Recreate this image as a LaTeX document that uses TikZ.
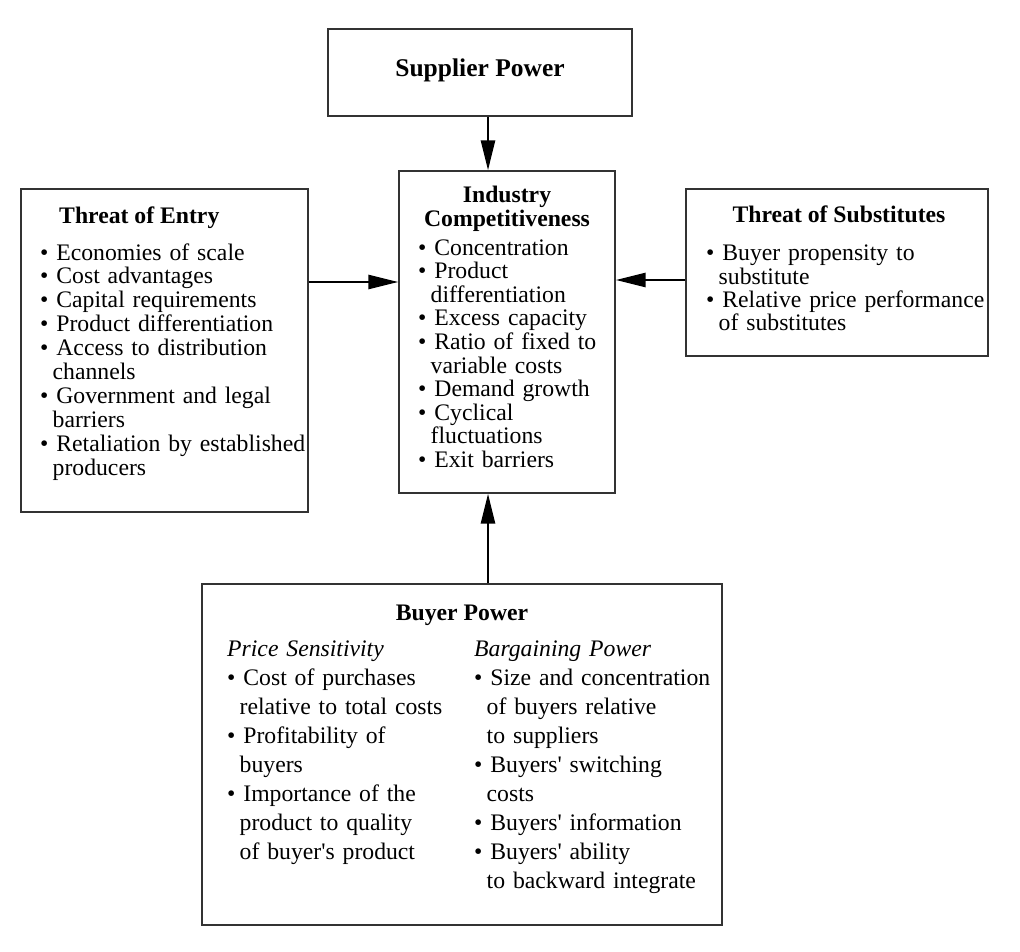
\documentclass[tikz,border=0pt]{standalone}
\usepackage{fontspec}
\setmainfont{Liberation Serif}
\usetikzlibrary{arrows.meta}

\newcommand\bitem[1]{\hangindent=12.5pt\hangafter=1\noindent\textbullet\ #1\par}
\newcommand\nl{\hfil\break}

\tikzset{
  box/.style={draw=black!80, line width=1.3pt, inner sep=0pt},
  txt/.style={anchor=base west, inner sep=0pt, align=left, text width=290pt,
    font=\fontsize{23.7}{#1}\selectfont},
  head/.style={anchor=base, inner sep=0pt, font=\fontsize{23.7}{24}\selectfont\bfseries},
  arr/.style={line width=2.6pt, -{Triangle[length=30pt,width=14pt]}}
}

\begin{document}
\begin{tikzpicture}[x=1pt, y=-1pt]
  \useasboundingbox (0,0) rectangle (1020,952);

  % boxes
  \node[box, minimum width=304pt, minimum height=87pt]  (supplier) at (480, 72.5) {};
  \node[box, minimum width=216pt, minimum height=322pt] (industry) at (507, 332) {};
  \node[box, minimum width=287pt, minimum height=323pt] (entry)    at (164.5, 350.5) {};
  \node[box, minimum width=302pt, minimum height=167pt] (subst)    at (837, 272.5) {};
  \node[box, minimum width=520pt, minimum height=341pt] (buyer)    at (462, 754.5) {};

  % headings
  \node[head, font=\fontsize{25.5}{26}\selectfont\bfseries] (supplierhead) at (480, 77) {Supplier Power};
  \node[head, align=center, text width=210pt] (industryhead) at (507, 203) {Industry\\Competitiveness};
  \node[head, anchor=base west] (entryhead) at (59, 224) {Threat of Entry};
  \node[head] (substhead) at (839, 223) {Threat of Substitutes};
  \node[head] (buyerhead) at (462, 620) {Buyer Power};

  % lists
  \node[txt=23.9] (entrytxt) at (40, 260) {%
    \bitem{Economies of scale}
    \bitem{Cost advantages}
    \bitem{Capital requirements}
    \bitem{Product differentiation}
    \bitem{Access to distribution\nl channels}
    \bitem{Government and legal\nl barriers}
    \bitem{Retaliation by established\nl producers}};
  \node[txt=23.6] (industrytxt) at (418, 255) {%
    \bitem{Concentration}
    \bitem{Product\nl differentiation}
    \bitem{Excess capacity}
    \bitem{Ratio of fixed to\nl variable costs}
    \bitem{Demand growth}
    \bitem{Cyclical\nl fluctuations}
    \bitem{Exit barriers}};
  \node[txt=23.3] (substtxt) at (706, 261) {%
    \bitem{Buyer propensity to\nl substitute}
    \bitem{Relative price performance\nl of substitutes}};
  \node[txt=29] (pricetxt) at (227, 656) {%
    {\itshape Price Sensitivity}\par
    \bitem{Cost of purchases\nl relative to total costs}
    \bitem{Profitability of\nl buyers}
    \bitem{Importance of the\nl product to quality\nl of buyer\textquotesingle s product}};
  \node[txt=29] (bargaintxt) at (474, 656) {%
    {\itshape Bargaining Power}\par
    \bitem{Size and concentration\nl of buyers relative\nl to suppliers}
    \bitem{Buyers\textquotesingle\ switching\nl costs}
    \bitem{Buyers\textquotesingle\ information}
    \bitem{Buyers\textquotesingle\ ability\nl to backward integrate}};

  % forces
  \draw[arr] ([xshift=8pt]supplier.south) -- ([xshift=8pt]supplier.south |- industry.north);
  \draw[arr] ([xshift=26pt]buyer.north) -- ([xshift=26pt]buyer.north |- industry.south);
  \draw[arr] ([yshift=68.5pt]entry.east) -- ([yshift=68.5pt]entry.east -| industry.west);
  \draw[arr] ([yshift=-7.5pt]subst.west) -- ([yshift=-7.5pt]subst.west -| industry.east);
\end{tikzpicture}
\end{document}
